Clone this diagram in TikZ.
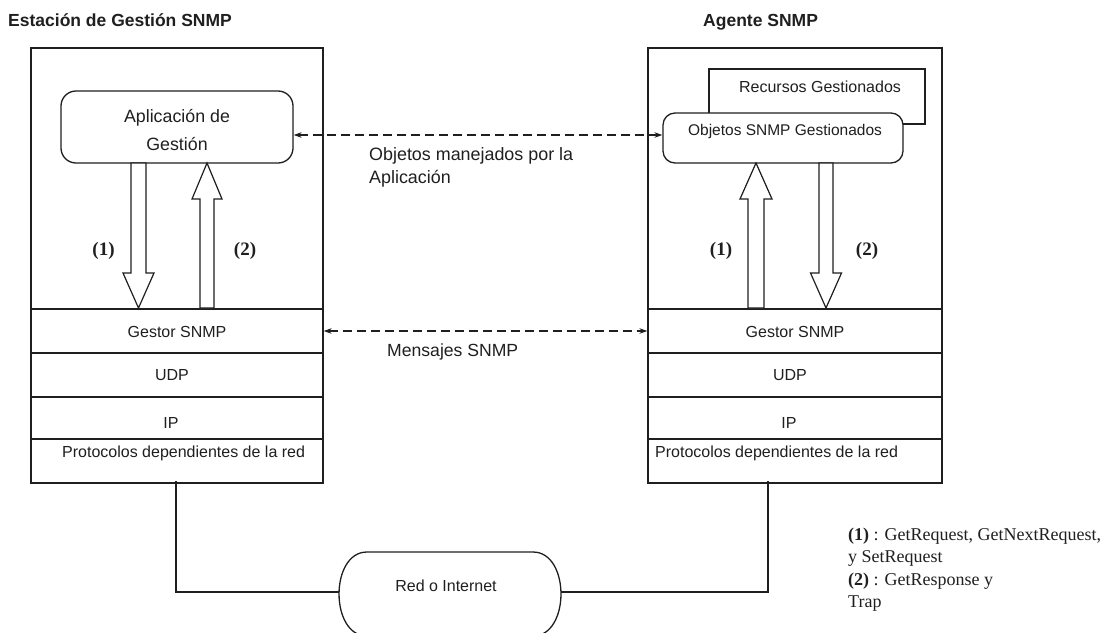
\documentclass[tikz,border=0pt]{standalone}
\usepackage{fontspec}
\setmainfont{Liberation Sans}
\newfontfamily\legendfont{Liberation Serif}
\usetikzlibrary{arrows.meta,calc}
\newcommand\setfs[1]{\fontsize{#1pt}{#1pt}\selectfont}

\begin{document}
\begin{tikzpicture}[x=1pt,y=-1pt,color=black!88,
  frame/.style={draw,line width=1.3pt,inner sep=0pt},
  layer/.style={frame,minimum height=44pt},
  wire/.style={draw,line width=1.3pt},
  txt/.style={inner sep=0pt,anchor=base,font=\setfs{16}},
  title/.style={inner sep=0pt,anchor=base west,font=\setfs{17.5}\bfseries},
  dsh/.style={line width=1.2pt,dash pattern=on 9pt off 5pt,
    {Stealth[length=8pt,width=5.5pt]}-{Stealth[length=8pt,width=5.5pt]}},
  blk/.style={draw,line width=1.2pt,fill=white,line join=miter},
  lbl/.style={inner sep=0pt,anchor=base,font=\legendfont\bfseries\setfs{19}},
  leg/.style={inner sep=0pt,anchor=base west,font=\legendfont\setfs{18}}]

\useasboundingbox (0,0) rectangle (1107,632);

% headings
\node[title] (tman) at (8,26) {Estación de Gestión SNMP};
\node[title] (tagt) at (703,26) {Agente SNMP};

% station frames
\node[frame,minimum width=292pt,minimum height=435pt] (lst) at (177,265.5) {};
\node[frame,minimum width=294pt,minimum height=435pt] (rst) at (795,265.5) {};

% protocol stack, manager side
\node[layer,minimum width=292pt] (lgestor) at (177,331) {};
\node[layer,minimum width=292pt] (ludp) at (177,375) {};
\node[layer,minimum width=292pt,minimum height=42pt] (lip) at (177,418) {};
\node[layer,minimum width=292pt] (lred) at (177,461) {};
\node[txt] (lgestortxt) at (177,337) {Gestor SNMP};
\node[txt] (ludptxt) at (172,380) {UDP};
\node[txt] (liptxt) at (171,428) {IP};
\node[txt,anchor=base west] (lredtxt) at (62,457) {Protocolos dependientes de la red};

% protocol stack, agent side
\node[layer,minimum width=294pt] (rgestor) at (795,331) {};
\node[layer,minimum width=294pt] (rudp) at (795,375) {};
\node[layer,minimum width=294pt,minimum height=42pt] (rip) at (795,418) {};
\node[layer,minimum width=294pt] (rred) at (795,461) {};
\node[txt] (rgestortxt) at (795,337) {Gestor SNMP};
\node[txt] (rudptxt) at (790,380) {UDP};
\node[txt] (riptxt) at (789,428) {IP};
\node[txt,anchor=base west] (rredtxt) at (655,457) {Protocolos dependientes de la red};

% management application
\node[frame,rounded corners=15pt,minimum width=232pt,minimum height=72pt] (lapp) at (177,127) {};
\node[txt,font=\setfs{17.8}] (lapp1) at (177,122) {Aplicación de};
\node[txt,font=\setfs{17.8}] (lapp2) at (177,150) {Gestión};

% managed resources and SNMP objects
\node[frame,minimum width=216pt,minimum height=55pt] (rres) at (817,96.5) {};
\node[txt] (rrestxt) at (820,92) {Recursos Gestionados};
\node[frame,fill=white,rounded corners=12pt,minimum width=240pt,minimum height=50pt] (robj) at (783,138) {};
\node[txt,font=\setfs{15.5}] (robjtxt) at (785,135) {Objetos SNMP Gestionados};

% logical exchanges
\coordinate (ya) at (0,135);
\draw[dsh] (lapp.east |- ya) -- (robj.west |- ya);
\node[txt,anchor=base west,font=\setfs{17.9}] (objtxt1) at (369,160) {Objetos manejados por la};
\node[txt,anchor=base west,font=\setfs{17.9}] (objtxt2) at (369,183) {Aplicación};
\draw[dsh] (lgestor.east) -- (rgestor.west);
\node[txt,anchor=base west,font=\setfs{17.6}] (msgtxt) at (387,356) {Mensajes SNMP};

% block arrows, manager side
\draw[blk] (131,163) -- (131,273) -- (123,273) -- (138.5,308) -- (154,273) -- (146,273) -- (146,163) -- cycle;
\draw[blk] (200,308) -- (200,199) -- (192,199) -- (207,163) -- (222,199) -- (214,199) -- (214,308) -- cycle;
% block arrows, agent side
\draw[blk] (748,308) -- (748,199) -- (740,199) -- (756,163) -- (772,199) -- (764,199) -- (764,308) -- cycle;
\draw[blk] (819,163) -- (819,273) -- (810.5,273) -- (826,308) -- (841.5,273) -- (833,273) -- (833,163) -- cycle;

\node[lbl] (l1) at (103.5,255) {(1)};
\node[lbl] (l2) at (245,255) {(2)};
\node[lbl] (r1) at (721,255) {(1)};
\node[lbl] (r2) at (867,255) {(2)};

% network
\node[inner sep=0pt,minimum width=222pt,minimum height=80pt] (net) at (450,592) {};
\draw[wire] (367,552) -- (533,552) .. controls (570.3,552) and (570.3,636) .. (533,636)
  -- (367,636) .. controls (329.7,636) and (329.7,552) .. (367,552) -- cycle;
\node[txt] (nettxt) at (446,591) {Red o Internet};
\coordinate (lnet) at (176,481);
\coordinate (rnet) at (768,481);
\draw[wire] (lnet) |- (net.west);
\draw[wire] (net.east) -| (rnet);

% legend
\node[leg] (leg1) at (848,540) {\textbf{(1)} : GetRequest, GetNextRequest,};
\node[leg] (leg2) at (848,562) {y SetRequest};
\node[leg] (leg3) at (848,585) {\textbf{(2)} : GetResponse y};
\node[leg] (leg4) at (848,607) {Trap};
\end{tikzpicture}
\end{document}
